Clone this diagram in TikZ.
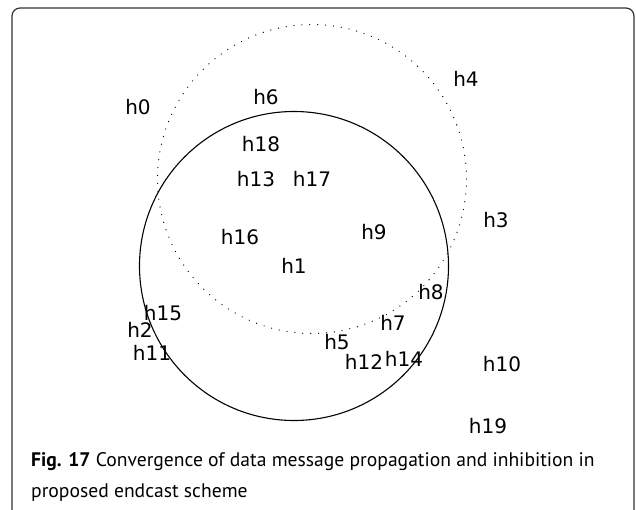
\documentclass[tikz,border=0pt]{standalone}
\usepackage{fontspec}
\newfontfamily\labfont{DejaVu Sans}
\newfontfamily\capfont{PT Sans}
\begin{document}
\begin{tikzpicture}[x=1pt,y=-1pt,
  host/.style={inner sep=0pt, font=\labfont\fontsize{20}{24}\selectfont},
  solidrange/.style={line width=1.1pt, black},
  dotrange/.style={line width=1.3pt, black, line cap=round, dash pattern=on 0pt off 7.9pt},
  framebox/.style={line width=1.2pt, black!80, rounded corners=8pt},
  captext/.style={inner sep=0pt, anchor=base west, font=\capfont\fontsize{19.6}{23}\selectfont}]
\useasboundingbox (0,0) rectangle (637,510);
\draw[framebox] (12,520) -- (12,8) -- (634,8) -- (634,520);
% hosts
\node[host] (h0)  at (138,107) {h0};
\node[host] (h1)  at (294,266) {h1};
\node[host] (h2)  at (140,330) {h2};
\node[host] (h3)  at (496,220) {h3};
\node[host] (h4)  at (466,79)  {h4};
\node[host] (h5)  at (337,342) {h5};
\node[host] (h6)  at (266,97)  {h6};
\node[host] (h7)  at (393,323) {h7};
\node[host] (h8)  at (431,292) {h8};
\node[host] (h9)  at (374,232) {h9};
\node[host] (h10) at (502,364) {h10};
\node[host] (h11) at (152,353) {h11};
\node[host] (h12) at (364,362) {h12};
\node[host] (h13) at (256,179) {h13};
\node[host] (h14) at (404,359) {h14};
\node[host] (h15) at (163,313) {h15};
\node[host] (h16) at (240,237) {h16};
\node[host] (h17) at (312,179) {h17};
\node[host] (h18) at (261,144) {h18};
\node[host] (h19) at (488,426) {h19};
% ranges
\draw[solidrange] (h1.center) circle[radius=154.5pt];
\draw[dotrange] (h17.center) circle[radius=154.5pt];
% caption
\node[captext] (cap1) at (31,466) {\textbf{Fig. 17} Convergence of data message propagation and inhibition in};
\node[captext] (cap2) at (31,497) {proposed endcast scheme};
\end{tikzpicture}
\end{document}
